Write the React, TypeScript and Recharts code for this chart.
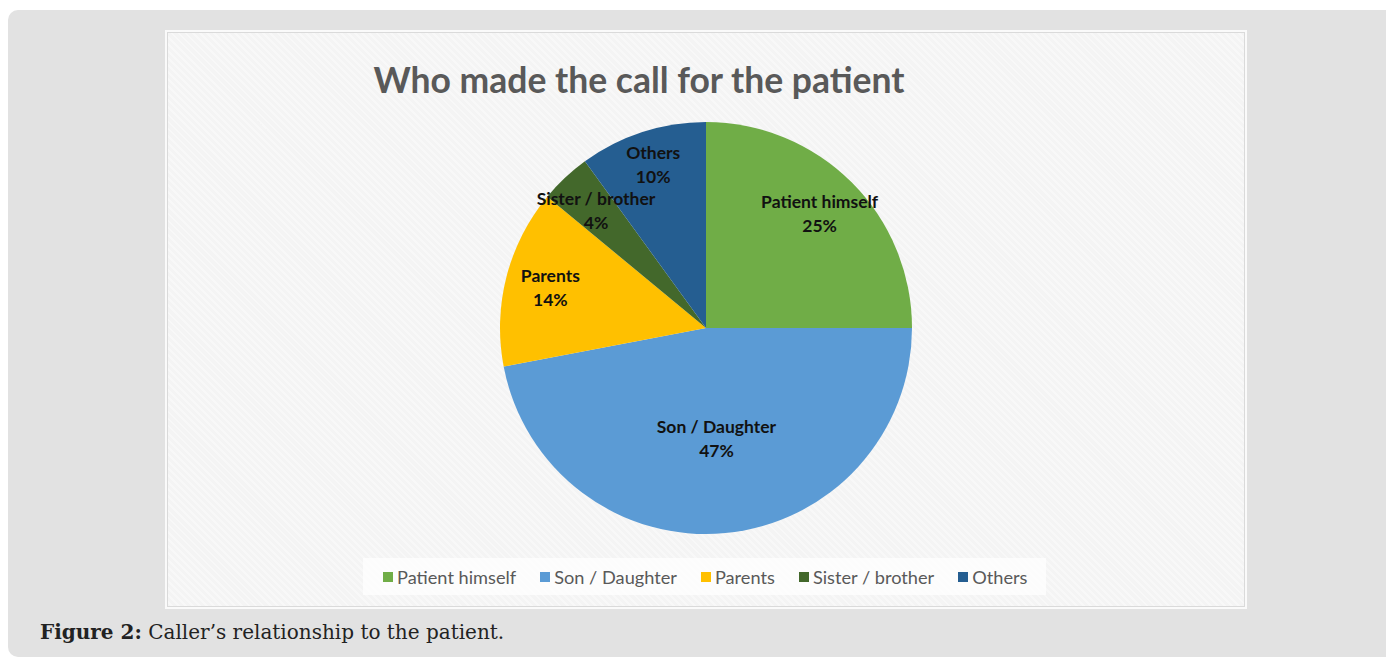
import React from 'react';
import { PieChart, Pie, Cell, Legend } from 'recharts';

// ── Data ─────────────────────────────────────────────────────────────────────

const categories = ['Patient himself', 'Son / Daughter', 'Parents', 'Sister / brother', 'Others'];
const shares = [25, 47, 14, 4, 10];

// styling per slice (colour, label distance from centre as a share of the radius)
const palette = ['#70ad47', '#5b9bd5', '#ffc000', '#43682b', '#255e91'];
const labelRadius = [0.78, 0.54, 0.78, 0.78, 0.83];

const chartData = categories.map((name, i) => ({ name, value: shares[i] }));

const RAD = Math.PI / 180;
const FONT = 'Lato, "Open Sans", sans-serif';

// ── Slice labels (Excel "best fit" look) ─────────────────────────────────────

function SliceLabel(props: any) {
  const { cx, cy, midAngle, outerRadius, index, name, value } = props;
  const r = outerRadius * labelRadius[index];
  const x = cx + r * Math.cos(-midAngle * RAD);
  const y = cy + r * Math.sin(-midAngle * RAD);
  return (
    <text x={x} y={y} textAnchor="middle" fontFamily={FONT} fontWeight={700} fontSize={17.5} fill="#111">
      <tspan x={x} dy={-6}>{name}</tspan>
      <tspan x={x} dy={24}>{value}%</tspan>
    </text>
  );
}

// ── Legend box ───────────────────────────────────────────────────────────────

function LegendBox() {
  return (
    <div
      style={{
        display: 'flex',
        alignItems: 'center',
        height: 37,
        paddingLeft: 20,
        background: 'rgba(255,255,255,0.75)',
        fontFamily: FONT,
        fontSize: 18.2,
        color: '#595959',
        whiteSpace: 'nowrap',
      }}
    >
      {categories.map((c, i) => (
        <div key={c} style={{ display: 'flex', alignItems: 'center', marginRight: 24, flexShrink: 0 }}>
          <span style={{ width: 10, height: 10, background: palette[i], marginRight: 4, flexShrink: 0 }} />
          {c}
        </div>
      ))}
    </div>
  );
}

export default function App() {
  return (
    <div style={{ position: 'relative', width: 1386, height: 649 }}>
      {/* grey page panel */}
      <div
        style={{
          position: 'absolute',
          left: 0,
          top: 2,
          width: 1386,
          height: 647,
          background: '#e2e2e2',
          borderRadius: '10px 6px 0 10px',
        }}
      />
      {/* chart image box */}
      <div
        style={{
          position: 'absolute',
          left: 157,
          top: 22,
          width: 1078,
          height: 575,
          border: '2px solid #fafafa',
          boxShadow: 'inset 0 0 0 1px #dadada',
          background:
            'repeating-linear-gradient(45deg, #f4f4f4 0px, #f4f4f4 3px, #f8f8f8 3px, #f8f8f8 5px)',
        }}
      >
        <div
          style={{
            position: 'absolute',
            left: 0,
            width: 944,
            top: 27,
            textAlign: 'center',
            fontFamily: FONT,
            fontWeight: 700,
            fontSize: 35.5,
            color: '#595959',
            lineHeight: '42px',
          }}
        >
          Who made the call for the patient
        </div>
        <PieChart width={1078} height={575} style={{ position: 'absolute', left: 0, top: 0 }}>
          <Pie
            data={chartData}
            dataKey="value"
            nameKey="name"
            cx={534}
            cy={291}
            outerRadius={206}
            startAngle={90}
            endAngle={-270}
            stroke="none"
            label={SliceLabel}
            labelLine={false}
            isAnimationActive={false}
          >
            {chartData.map((d, i) => (
              <Cell key={d.name} fill={palette[i]} />
            ))}
          </Pie>
          <Legend
            content={() => <LegendBox />}
            wrapperStyle={{ left: 196, top: 526, width: 683, bottom: 'auto' }}
          />
        </PieChart>
      </div>
      {/* caption */}
      <div
        style={{
          position: 'absolute',
          left: 32,
          top: 612,
          fontFamily: '"DejaVu Serif", serif',
          fontSize: 20,
          color: '#222',
        }}
      >
        <b>Figure 2:</b> Caller&rsquo;s relationship to the patient.
      </div>
    </div>
  );
}
